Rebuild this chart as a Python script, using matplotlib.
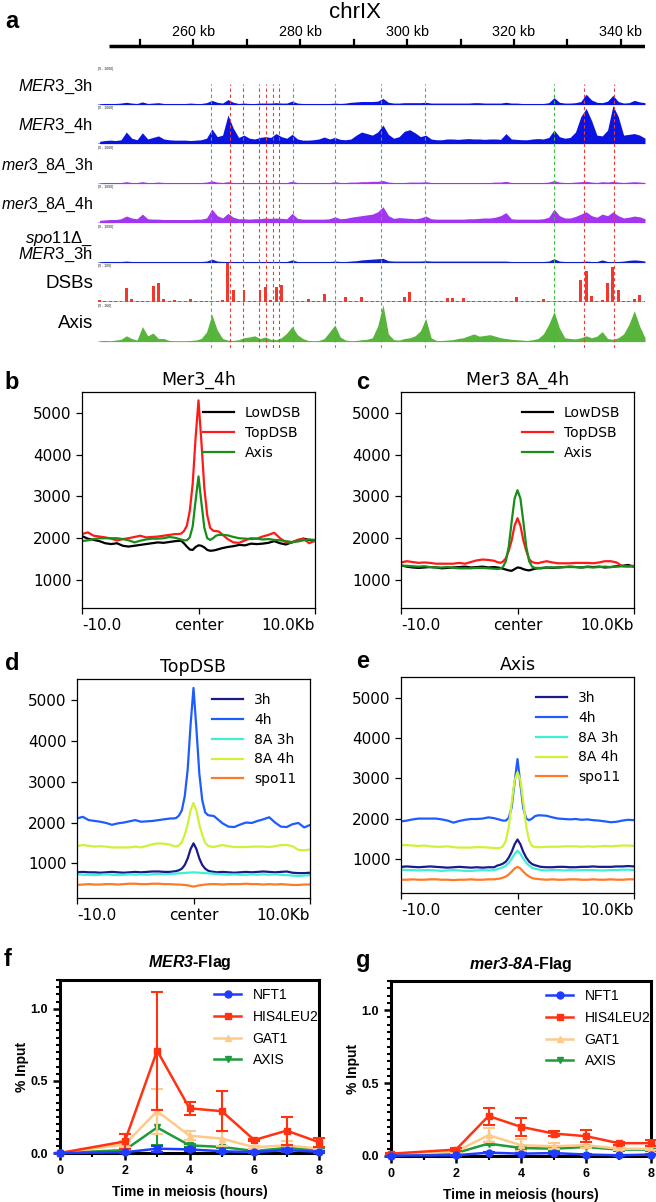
import numpy as np
import matplotlib
matplotlib.use("Agg")
import matplotlib.pyplot as plt
from matplotlib.ticker import MultipleLocator, FormatStrFormatter
from matplotlib.lines import Line2D

W, H = 656, 1202

plt.rcParams['mathtext.fontset'] = 'custom'
plt.rcParams['mathtext.rm'] = 'Liberation Sans'
plt.rcParams['mathtext.it'] = 'Liberation Sans:italic'
plt.rcParams['mathtext.bf'] = 'Liberation Sans:bold'
try:
    plt.rcParams['mathtext.bfit'] = 'Liberation Sans:bold:italic'
except KeyError:
    pass

# ---------------- panel a : genome browser tracks (1 kb bins from 242 kb) ----------------
track_start = 242
mer3_3h = [2, 3, 3, 3, 4, 6, 4, 3, 7, 3,
           4, 5, 3, 3, 3, 3, 3, 4, 3, 3,
           5, 11, 6, 4, 13, 6, 3, 4, 3, 3,
           4, 4, 4, 5, 4, 4, 9, 4, 3, 3,
           3, 3, 3, 3, 4, 3, 4, 6, 7, 8,
           8, 8, 9, 16, 6, 4, 4, 5, 5, 5,
           5, 6, 4, 4, 4, 4, 4, 4, 4, 4,
           5, 5, 4, 4, 4, 4, 6, 4, 4, 3,
           3, 3, 3, 3, 5, 18, 6, 4, 4, 5,
           8, 27, 12, 6, 5, 9, 24, 8, 4, 5,
           11, 7, 5]
mer3_4h = [6, 8, 9, 8, 10, 30, 14, 10, 28, 12,
           16, 20, 12, 10, 9, 9, 9, 8, 9, 10,
           14, 38, 18, 22, 74, 40, 16, 22, 14, 12,
           16, 18, 16, 26, 18, 14, 24, 12, 9, 9,
           10, 12, 17, 12, 16, 11, 10, 12, 22, 30,
           26, 22, 30, 48, 24, 14, 18, 32, 36, 28,
           18, 22, 12, 10, 10, 12, 12, 11, 12, 13,
           12, 12, 11, 12, 12, 11, 26, 12, 11, 10,
           10, 12, 13, 12, 16, 35, 18, 14, 16, 30,
           70, 91, 60, 22, 20, 35, 98, 70, 22, 24,
           26, 22, 14]
mer3_8a_3h = [2, 3, 3, 3, 3, 5, 3, 3, 5, 3,
              3, 4, 3, 3, 3, 3, 3, 3, 3, 3,
              4, 7, 4, 3, 5, 3, 3, 3, 3, 3,
              3, 3, 3, 3, 3, 3, 6, 3, 3, 3,
              3, 3, 3, 3, 5, 3, 3, 4, 4, 5,
              5, 6, 6, 8, 4, 3, 3, 3, 4, 4,
              4, 5, 3, 3, 3, 3, 3, 3, 3, 3,
              3, 3, 3, 3, 4, 4, 6, 3, 3, 3,
              3, 3, 3, 3, 4, 8, 4, 3, 3, 4,
              5, 6, 4, 3, 5, 4, 6, 4, 3, 4,
              5, 4, 3]
mer3_8a_4h = [6, 7, 8, 8, 10, 17, 12, 10, 22, 10,
              9, 9, 8, 8, 8, 8, 8, 8, 9, 9,
              12, 35, 18, 12, 24, 14, 10, 10, 9, 10,
              10, 12, 11, 12, 11, 10, 24, 11, 9, 9,
              9, 9, 9, 10, 15, 10, 11, 14, 16, 18,
              20, 22, 28, 41, 18, 11, 13, 12, 11, 10,
              12, 17, 10, 9, 9, 9, 9, 9, 9, 10,
              10, 11, 12, 12, 14, 18, 26, 10, 9, 9,
              9, 9, 9, 10, 14, 35, 18, 12, 12, 16,
              22, 28, 18, 14, 22, 18, 28, 18, 12, 14,
              17, 15, 10]
spo11_mer3_3h = [2, 3, 3, 3, 3, 4, 3, 3, 3, 3,
                 3, 3, 3, 3, 3, 3, 3, 3, 3, 3,
                 4, 9, 4, 3, 3, 3, 3, 3, 3, 3,
                 3, 3, 3, 3, 3, 3, 7, 3, 3, 3,
                 3, 3, 3, 3, 4, 3, 3, 4, 5, 7,
                 8, 9, 10, 11, 5, 4, 4, 4, 4, 4,
                 4, 5, 4, 4, 4, 4, 4, 4, 4, 4,
                 4, 4, 4, 4, 4, 4, 4, 3, 3, 3,
                 3, 3, 3, 3, 4, 10, 4, 3, 3, 3,
                 3, 4, 3, 3, 7, 3, 3, 3, 4, 6,
                 7, 6, 4]
dsbs = [3, 2, 1, 1, 1, 36, 8, 1, 1, 2,
        40, 48, 6, 1, 4, 1, 1, 8, 1, 1,
        1, 2, 2, 3, 100, 30, 2, 29, 2, 1,
        30, 39, 3, 39, 43, 2, 2, 1, 1, 7,
        1, 1, 20, 1, 2, 1, 11, 1, 1, 13,
        2, 1, 1, 1, 1, 1, 2, 11, 26, 2,
        1, 1, 1, 1, 1, 9, 9, 1, 10, 1,
        1, 1, 1, 1, 1, 1, 1, 1, 13, 1,
        1, 1, 1, 6, 1, 2, 1, 1, 1, 1,
        55, 80, 14, 2, 5, 48, 90, 30, 2, 1,
        6, 17, 2]
axis_track = [2, 3, 2, 4, 6, 15, 8, 4, 39, 15,
              22, 8, 8, 3, 2, 2, 2, 3, 4, 8,
              25, 70, 30, 8, 4, 3, 5, 10, 12, 15,
              8, 12, 6, 5, 10, 22, 39, 18, 8, 3,
              2, 3, 8, 25, 43, 12, 4, 2, 3, 5,
              6, 10, 40, 96, 20, 5, 4, 8, 10, 15,
              28, 60, 10, 3, 3, 4, 5, 8, 10, 15,
              20, 14, 16, 18, 14, 10, 8, 6, 5, 4,
              3, 5, 8, 20, 45, 78, 35, 10, 8, 7,
              10, 15, 10, 14, 26, 8, 6, 10, 20, 45,
              80, 40, 10]
green_sites = [263.4, 278.7, 286.6, 295.2, 303.4, 327.5]
red_sites = [266.8, 269.3, 272.4, 273.7, 275.0, 276.1, 333.1, 338.7]
ruler_ticks = [250, 260, 270, 280, 290, 300, 310, 320, 330, 340]
ruler_labels = [260, 280, 300, 320, 340]

# ---------------- panels b-e : profiles, kb from centre (finer steps near the centre) ----------------
prof_x = np.r_[np.arange(-10, -1.9, 0.5), np.arange(-1.75, 1.8, 0.25), np.arange(2, 10.1, 0.5)]
lowdsb_4h = [2050, 1990, 1960, 1930, 1880, 1860, 1880, 1820, 1800, 1820, 1840, 1860, 1880, 1900, 1890, 1910, 1930,
             1935, 1940, 1880, 1800, 1730, 1720, 1790, 1830, 1820, 1780, 1720, 1700, 1705, 1720, 1740,
             1760, 1790, 1810, 1840, 1830, 1870, 1860, 1870, 1890, 1930, 1880, 1850, 1900, 1950, 1990, 1960, 1930]
topdsb_4h = [2100, 2140, 2060, 2040, 2020, 1990, 1945, 1980, 2000, 2030, 2060, 2020, 2030, 2040, 2060, 2080, 2100,
             2100, 2110, 2170, 2300, 2650, 3300, 4400, 5300, 4300, 3200, 2550, 2250, 2180, 2170, 2160,
             2100, 1980, 1900, 1890, 1950, 2000, 1990, 2040, 2080, 2130, 2000, 1900, 1890, 1960, 1990, 1880, 1940]
axis_4h = [1930, 1950, 1980, 2000, 2000, 2000, 2000, 1980, 1950, 1900, 1940, 1970, 1990, 1990, 2000, 2030, 2010,
           1990, 1970, 1950, 1950, 2020, 2280, 2900, 3480, 2850, 2250, 2000, 1960, 2000, 2060, 2080,
           2080, 2070, 2030, 2000, 1990, 1980, 1990, 1970, 1980, 1960, 1950, 1930, 1910, 1920, 1950, 1970, 1960]
lowdsb_8a4h = [1350, 1320, 1300, 1290, 1300, 1310, 1300, 1280, 1290, 1300, 1310, 1320, 1300, 1310, 1320, 1300, 1310,
               1300, 1290, 1270, 1250, 1230, 1220, 1260, 1300, 1290, 1260, 1240, 1230, 1250, 1270, 1280,
               1280, 1300, 1290, 1300, 1310, 1320, 1310, 1300, 1320, 1310, 1320, 1300, 1310, 1330, 1340, 1360, 1320]
topdsb_8a4h = [1420, 1450, 1430, 1410, 1420, 1410, 1390, 1390, 1390, 1390, 1410, 1390, 1430, 1470, 1490, 1480, 1460,
               1430, 1410, 1440, 1520, 1700, 1950, 2300, 2480, 2300, 1950, 1700, 1500, 1430, 1410, 1400,
               1420, 1450, 1420, 1400, 1400, 1400, 1410, 1410, 1410, 1400, 1420, 1450, 1450, 1420, 1330, 1320, 1340]
axis_8a4h = [1340, 1340, 1330, 1320, 1330, 1310, 1300, 1300, 1310, 1290, 1280, 1280, 1280, 1290, 1290, 1280, 1270,
             1265, 1270, 1310, 1450, 1800, 2400, 2950, 3150, 2950, 2400, 1800, 1450, 1320, 1290, 1290,
             1290, 1300, 1300, 1300, 1310, 1310, 1310, 1300, 1310, 1300, 1310, 1320, 1310, 1320, 1330, 1330, 1320]
topdsb_3h = [780, 790, 780, 780, 770, 780, 790, 780, 770, 780, 790, 780, 790, 800, 800, 790, 790,
             800, 810, 830, 870, 960, 1120, 1350, 1490, 1350, 1120, 960, 870, 820, 800, 790,
             780, 790, 780, 770, 780, 790, 780, 790, 800, 790, 780, 790, 800, 770, 760, 760, 770]
topdsb_8a3h = [730, 720, 720, 710, 720, 730, 720, 710, 720, 730, 720, 730, 720, 730, 740, 730, 740,
               745, 750, 755, 760, 765, 770, 775, 780, 775, 770, 765, 760, 755, 750, 745,
               740, 730, 720, 730, 720, 720, 730, 720, 730, 720, 730, 720, 710, 700, 690, 700, 710]
topdsb_spo11 = [470, 480, 490, 480, 480, 490, 490, 480, 490, 500, 500, 490, 490, 500, 500, 490, 490,
                485, 480, 480, 475, 470, 460, 445, 430, 445, 460, 470, 480, 485, 490, 490,
                490, 480, 490, 490, 490, 500, 490, 490, 480, 490, 480, 490, 480, 470, 470, 480, 480]
axis_3h = [800, 810, 800, 790, 800, 810, 800, 790, 780, 790, 800, 790, 780, 790, 780, 790, 790,
           830, 850, 880, 930, 1030, 1170, 1360, 1480, 1360, 1170, 1030, 930, 870, 840, 820,
           800, 790, 790, 800, 800, 790, 790, 800, 800, 810, 800, 800, 800, 810, 810, 820, 810]
axis_8a3h = [730, 720, 720, 710, 720, 720, 710, 700, 710, 720, 710, 700, 700, 710, 720, 710, 720,
             740, 760, 790, 830, 900, 1000, 1120, 1200, 1120, 1000, 900, 830, 780, 750, 740,
             720, 710, 720, 720, 710, 720, 710, 720, 720, 720, 710, 710, 720, 720, 730, 730, 720]
axis_spo11 = [480, 480, 490, 480, 480, 490, 490, 480, 480, 470, 480, 480, 490, 480, 480, 490, 490,
              500, 510, 530, 560, 610, 680, 760, 800, 760, 680, 610, 560, 520, 505, 500,
              490, 480, 490, 480, 480, 490, 490, 480, 480, 490, 480, 480, 490, 480, 480, 490, 490]

# ---------------- panels f-g : ChIP-qPCR ----------------
hours = [0, 2, 3, 4, 5, 6, 7, 8]
f_nft1 = [0.0, 0.005, 0.03, 0.025, 0.012, 0.006, 0.02, 0.008]
f_nft1_err = [0.0, 0.005, 0.02, 0.01, 0.005, 0.005, 0.01, 0.005]
f_his4 = [0.0, 0.08, 0.71, 0.31, 0.29, 0.09, 0.155, 0.075]
f_his4_err = [0.0, 0.055, 0.41, 0.047, 0.14, 0.01, 0.098, 0.03]
f_gat1 = [0.0, 0.06, 0.29, 0.12, 0.10, 0.04, 0.053, 0.03]
f_gat1_err = [0.0, 0.02, 0.155, 0.03, 0.05, 0.01, 0.03, 0.01]
f_axis = [0.0, 0.02, 0.177, 0.053, 0.042, 0.014, 0.035, 0.023]
f_axis_err = [0.0, 0.01, 0.12, 0.01, 0.01, 0.005, 0.01, 0.005]
g_nft1 = [0.003, 0.005, 0.023, 0.016, 0.02, 0.01, 0.005, 0.01]
g_nft1_err = [0.0, 0.003, 0.005, 0.005, 0.005, 0.003, 0.003, 0.003]
g_his4 = [0.016, 0.044, 0.274, 0.2, 0.154, 0.136, 0.088, 0.088]
g_his4_err = [0.005, 0.01, 0.058, 0.063, 0.015, 0.04, 0.01, 0.02]
g_gat1 = [0.01, 0.03, 0.143, 0.074, 0.067, 0.074, 0.05, 0.05]
g_gat1_err = [0.0, 0.01, 0.05, 0.04, 0.02, 0.02, 0.01, 0.01]
g_axis = [0.005, 0.02, 0.085, 0.055, 0.05, 0.062, 0.044, 0.044]
g_axis_err = [0.0, 0.005, 0.01, 0.01, 0.01, 0.01, 0.01, 0.01]


fig = plt.figure(figsize=(W / 100, H / 100), dpi=100)


def rect(l, t, r, b):
    return [l / W, 1 - b / H, (r - l) / W, (b - t) / H]


def ftext(x, y, s, **kw):
    fig.text(x / W, 1 - y / H, s, **kw)


SANS = 'Liberation Sans'

# ---- panel a ----
kb = track_start + np.arange(len(mer3_3h)) + 0.5
xlo, xhi = 242.2, 344.5

ax_r = fig.add_axes(rect(98, 20, 645, 52))
ax_r.set_xlim(xlo, xhi)
ax_r.set_ylim(0, 32)
ax_r.axis('off')
ax_r.plot([244.2, xhi], [6, 6], color='black', lw=2.5, solid_capstyle='butt')
for t in ruler_ticks:
    ax_r.plot([t, t], [6, 12], color='black', lw=1.6)
for t in ruler_labels:
    ax_r.text(t, 20, f'{t} kb', ha='center', va='center', fontsize=10.3, family=SANS)
ftext(355, 13, 'chrIX', fontsize=16, ha='center', va='center', family=SANS)
ftext(12, 22, 'a', fontsize=17, fontweight='bold', ha='center', va='center', family=SANS)

tracks = [mer3_3h, mer3_4h, mer3_8a_3h, mer3_8a_4h, spo11_mer3_3h, dsbs, axis_track]
colors = ['#0a14e0', '#0a14e0', '#a235f0', '#a235f0', '#1020c8', '#ee3a2e', '#58b43c']
labels = [r'$\mathit{MER3}$_3h', r'$\mathit{MER3}$_4h', r'$\mathit{mer3\_8A}$_3h',
          r'$\mathit{mer3\_8A}$_4h', None, 'DSBs', 'Axis']
label_sizes = [12, 12, 11.4, 11.4, 12, 13.5, 13.5]
ranges = ['[0 - 1000]'] * 5 + ['[0 - 100]', '[0 - 160]']
baselines = [104, 143, 183, 222, 262, 301, 341]
for i, (vals, c, lab, rng, b) in enumerate(zip(tracks, colors, labels, ranges, baselines)):
    ax = fig.add_axes(rect(98, b - 38, 645, b + 1))
    if lab == 'DSBs':
        ax.bar(kb, vals, width=0.55, color=c, lw=0)
    else:
        ax.fill_between(kb, vals, 0, color=c, lw=0)
    ax.plot([xlo, xhi], [0, 0], color=c, lw=1.2, alpha=0.55)
    ax.set_xlim(xlo, xhi)
    ax.set_ylim(-1, 100)
    ax.axis('off')
    ax.text(0.0, 1.0, rng, transform=ax.transAxes, fontsize=2.2, va='top', ha='left')
    if lab is not None:
        ftext(93, b - 17, lab, fontsize=label_sizes[i], ha='right', va='center', family=SANS)
ftext(93, 239, r'$\mathit{spo11\Delta}$_', fontsize=12, ha='right', va='center', family=SANS)
ftext(93, 255, r'$\mathit{MER3}$_3h', fontsize=12, ha='right', va='center', family=SANS)

ax_d = fig.add_axes(rect(98, 84, 645, 348), zorder=5)
ax_d.set_xlim(xlo, xhi)
ax_d.set_ylim(0, 1)
ax_d.axis('off')
ax_d.vlines(green_sites, 0, 1, colors='#3cbf3c', linestyles=(0, (3, 2.5)), lw=0.8)
ax_d.vlines(red_sites, 0, 1, colors='#f03a3a', linestyles=(0, (3, 2.5)), lw=0.8)


# ---- panels b-e ----
def profile(rect_px, series, title, letter, letter_xy, ylim):
    ax = fig.add_axes(rect(*rect_px))
    for vals, c, lab in series:
        ax.plot(prof_x, vals, color=c, lw=1.6, label=lab)
    ax.set_xlim(-10, 10)
    ax.set_ylim(*ylim)
    ax.set_xticks([-10, 0, 10])
    ax.set_xticklabels(['-10.0', 'center', '10.0Kb'])
    xl = ax.get_xticklabels()
    xl[0].set_ha('left')
    xl[-1].set_ha('right')
    ax.set_yticks([1000, 2000, 3000, 4000, 5000])
    ax.tick_params(labelsize=11, length=4, width=0.9)
    for s in ax.spines.values():
        s.set_linewidth(0.9)
    ax.set_title(title, fontsize=12.5, pad=5)
    ax.legend(loc='upper right', frameon=False, fontsize=10, handlelength=2.2,
              labelspacing=0.42, borderaxespad=0.6)
    ftext(letter_xy[0], letter_xy[1], letter, fontsize=17, fontweight='bold',
          ha='center', va='center', family=SANS)
    return ax


profile((82, 392, 315, 608),
        [(lowdsb_4h, 'black', 'LowDSB'), (topdsb_4h, '#ff1a1a', 'TopDSB'), (axis_4h, '#1a8c1a', 'Axis')],
        'Mer3_4h', 'b', (12, 383), (330, 5500))
profile((401, 392, 634, 608),
        [(lowdsb_8a4h, 'black', 'LowDSB'), (topdsb_8a4h, '#ff1a1a', 'TopDSB'), (axis_8a4h, '#1a8c1a', 'Axis')],
        'Mer3 8A_4h', 'c', (363, 383), (330, 5500))

c3, c4, c83, c84, cs = '#1a1a8c', '#1f5cff', '#3ff0d5', '#cdf23a', '#ff7a26'
profile((77, 679, 310, 898),
        [(topdsb_3h, c3, '3h'), (topdsb_4h, c4, '4h'), (topdsb_8a3h, c83, '8A 3h'),
         (topdsb_8a4h, c84, '8A 4h'), (topdsb_spo11, cs, 'spo11')],
        'TopDSB', 'd', (12, 663), (150, 5520))
profile((401, 677, 634, 893),
        [(axis_3h, c3, '3h'), (axis_4h, c4, '4h'), (axis_8a3h, c83, '8A 3h'),
         (axis_8a4h, c84, '8A 4h'), (axis_spo11, cs, 'spo11')],
        'Axis', 'e', (363, 662), (150, 5520))


# ---- panels f-g ----
def chip(rect_px, sets, title, letter, letter_xy):
    ax = fig.add_axes(rect(*rect_px))
    styles = {'NFT1': ('#1f3cff', 'o'), 'HIS4LEU2': ('#ff3311', 's'),
              'GAT1': ('#ffc98a', '^'), 'AXIS': ('#1f9a3c', 'v')}
    order = ['AXIS', 'GAT1', 'HIS4LEU2', 'NFT1']
    for z, name in enumerate(order):
        vals, err = sets[name]
        c, m = styles[name]
        ax.errorbar(hours, vals, yerr=err, color=c, marker=m, ms=5, lw=1.8,
                    elinewidth=1.5, capsize=4, capthick=1.5, clip_on=False, zorder=3 + z)
    ax.set_xlim(0, 8)
    ax.set_ylim(0, 1.2)
    for s in ax.spines.values():
        s.set_linewidth(2.2)
    ax.xaxis.set_major_locator(MultipleLocator(2))
    ax.xaxis.set_minor_locator(MultipleLocator(1))
    ax.yaxis.set_major_locator(MultipleLocator(0.5))
    ax.yaxis.set_minor_locator(MultipleLocator(0.05))
    ax.yaxis.set_major_formatter(FormatStrFormatter('%.1f'))
    ax.tick_params(which='major', length=5, width=1.8, labelsize=9)
    ax.tick_params(which='minor', length=3, width=1.5)
    for lab in ax.get_xticklabels() + ax.get_yticklabels():
        lab.set_fontweight('bold')
        lab.set_family(SANS)
    ax.set_xlabel('Time in meiosis (hours)', fontsize=10, fontweight='bold', family=SANS, labelpad=6)
    ax.set_ylabel('% Input', fontsize=10, fontweight='bold', family=SANS, labelpad=1)
    ax.set_title(title, fontsize=11.5, fontweight='bold', family=SANS, pad=9)
    names = ['NFT1', 'HIS4LEU2', 'GAT1', 'AXIS']
    handles = [Line2D([], [], color=styles[n][0], marker=styles[n][1], ms=5, lw=1.8) for n in names]
    ax.legend(handles, names, loc='upper right', frameon=False,
              prop={'family': SANS, 'size': 10}, handlelength=2.0, labelspacing=0.55,
              borderaxespad=0.2, bbox_to_anchor=(1.03, 1.0))
    ftext(letter_xy[0], letter_xy[1], letter, fontsize=17, fontweight='bold',
          ha='center', va='center', family=SANS)


chip((60, 980, 319, 1153),
     {'NFT1': (f_nft1, f_nft1_err), 'HIS4LEU2': (f_his4, f_his4_err),
      'GAT1': (f_gat1, f_gat1_err), 'AXIS': (f_axis, f_axis_err)},
     r'$\mathbfit{MER3}$-Flag', 'f', (8, 960))
chip((391, 981, 651, 1156),
     {'NFT1': (g_nft1, g_nft1_err), 'HIS4LEU2': (g_his4, g_his4_err),
      'GAT1': (g_gat1, g_gat1_err), 'AXIS': (g_axis, g_axis_err)},
     r'$\mathbfit{mer3}$-$\mathbfit{8A}$-Flag', 'g', (363, 960))

fig.savefig('out.png', dpi=100)
